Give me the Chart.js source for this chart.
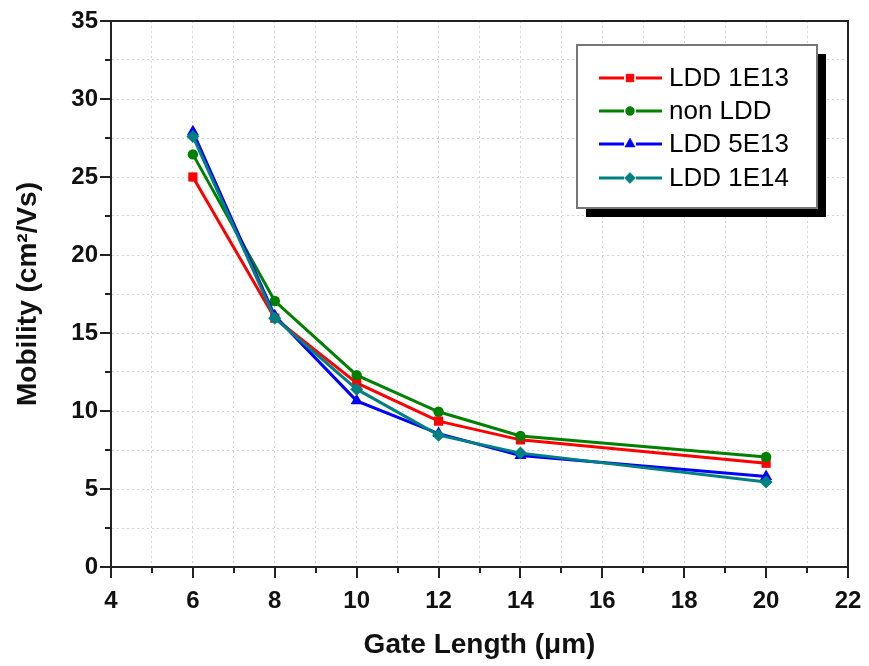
<!DOCTYPE html>
<html>
<head>
<meta charset="utf-8">
<script src="https://cdn.jsdelivr.net/npm/chart.js@4/dist/chart.umd.min.js"></script>
<style>
  html, body { margin: 0; padding: 0; background: #fff; }
  #wrap { width: 869px; height: 666px; }
</style>
</head>
<body>
<div id="wrap"><canvas id="c" width="869" height="666"></canvas></div>
<script>
// ---- data ----
const gateLengths = [6, 8, 10, 12, 14, 20];
const ldd1E13 = [25.0, 15.95, 11.8, 9.35, 8.15, 6.65];
const nonLDD = [26.45, 17.05, 12.3, 9.95, 8.4, 7.05];
const ldd5E13 = [27.9, 16.1, 10.65, 8.55, 7.15, 5.8];
const ldd1E14 = [27.6, 15.95, 11.4, 8.45, 7.3, 5.45];
const seriesNames = ['LDD 1E13', 'non LDD', 'LDD 5E13', 'LDD 1E14'];
const xTickLabels = [4, 6, 8, 10, 12, 14, 16, 18, 20, 22];
const yTickLabels = [0, 5, 10, 15, 20, 25, 30, 35];
const xTitle = 'Gate Length (\u03BCm)';
const yTitle = 'Mobility (cm\u00B2/Vs)';

const FONT = "'Liberation Sans', Arial, sans-serif";

function pts(vals) { return gateLengths.map((x, i) => ({ x: x, y: vals[i] })); }

const styles = [
  { color: '#ff0000', shape: 'rect', r: 6.5, order: 3 },
  { color: '#008000', shape: 'circle', r: 5.2, order: 2 },
  { color: '#0000ff', shape: 'triangle', r: 7, order: 1 },
  { color: '#008080', shape: 'rectRot', r: 6.5, order: 0 }
];
const seriesVals = [ldd1E13, nonLDD, ldd5E13, ldd1E14];

const datasets = seriesVals.map((v, i) => ({
  label: seriesNames[i],
  data: pts(v),
  borderColor: styles[i].color,
  backgroundColor: styles[i].color,
  borderWidth: 3,
  pointStyle: styles[i].shape,
  pointRadius: styles[i].r,
  pointHoverRadius: styles[i].r,
  pointBorderWidth: 0,
  pointBackgroundColor: styles[i].color,
  order: styles[i].order,
  tension: 0
}));

const framePlugin = {
  id: 'frame',
  afterDraw(chart) {
    const ctx = chart.ctx;
    const a = chart.chartArea;
    const xs = chart.scales.x, ys = chart.scales.y;
    ctx.save();
    // frame
    ctx.strokeStyle = '#222';
    ctx.lineWidth = 2;
    ctx.strokeRect(a.left, a.top, a.right - a.left, a.bottom - a.top);
    // ticks
    ctx.lineWidth = 2;
    ctx.beginPath();
    for (let v = xs.min; v <= xs.max + 1e-9; v += 1) {
      const px = Math.round(xs.getPixelForValue(v));
      const len = (v % 2 === 0) ? 11 : 6;
      ctx.moveTo(px, a.bottom);
      ctx.lineTo(px, a.bottom + len);
    }
    for (let v = ys.min; v <= ys.max + 1e-9; v += 2.5) {
      const py = Math.round(ys.getPixelForValue(v));
      const len = (v % 5 === 0) ? 11 : 6;
      ctx.moveTo(a.left, py);
      ctx.lineTo(a.left - len, py);
    }
    ctx.stroke();

    // legend
    const bx = 577, by = 45, bw = 240, bh = 163;
    ctx.fillStyle = '#000';
    ctx.fillRect(bx + 9, by + 9, bw, bh);
    ctx.fillStyle = '#fff';
    ctx.fillRect(bx, by, bw, bh);
    ctx.strokeStyle = '#777';
    ctx.lineWidth = 2;
    ctx.strokeRect(bx, by, bw, bh);
    const rows = [78, 111, 144, 178];
    chart.data.datasets.forEach((ds, i) => {
      const y = rows[i];
      ctx.strokeStyle = ds.borderColor;
      ctx.lineWidth = 3;
      ctx.beginPath();
      ctx.moveTo(599, y); ctx.lineTo(624, y);
      ctx.moveTo(636, y); ctx.lineTo(662, y);
      ctx.stroke();
      ctx.fillStyle = ds.borderColor;
      ctx.strokeStyle = ds.borderColor;
      ctx.lineWidth = 0.5;
      Chart.helpers.drawPoint(ctx, { pointStyle: ds.pointStyle, radius: ds.pointRadius * 0.85, borderWidth: 0.5, rotation: 0 }, 630, y);
      ctx.fillStyle = '#000';
      ctx.font = '26px ' + FONT;
      ctx.textBaseline = 'middle';
      ctx.textAlign = 'left';
      ctx.fillText(ds.label, 669, y + 1);
    });
    ctx.restore();
  }
};

new Chart(document.getElementById('c'), {
  type: 'line',
  data: { datasets: datasets },
  plugins: [framePlugin],
  options: {
    responsive: false,
    animation: false,
    layout: { padding: { top: 21, right: 21, left: 0, bottom: 0 } },
    plugins: { legend: { display: false }, tooltip: { enabled: false } },
    scales: {
      x: {
        type: 'linear',
        min: 4, max: 22,
        afterFit(s) { s.height = 99; s.paddingLeft = 0; s.paddingRight = 0; },
        grid: { color: '#d4d4d4', lineWidth: 1, drawTicks: false },
        border: { display: true, color: '#222', width: 2, dash: [2, 3] },
        ticks: {
          stepSize: 1,
          autoSkip: false,
          maxRotation: 0,
          padding: 20,
          color: '#111',
          font: { family: FONT, size: 24, weight: 'bold' },
          callback: (v) => xTickLabels.includes(v) ? String(v) : ''
        },
        title: {
          display: true, text: xTitle, color: '#111',
          font: { family: FONT, size: 28, weight: 'bold' },
          padding: { top: 0, bottom: 4 }
        }
      },
      y: {
        type: 'linear',
        min: 0, max: 35,
        afterFit(s) { s.width = 111; s.paddingTop = 0; s.paddingBottom = 0; },
        grid: { color: '#d4d4d4', lineWidth: 1, drawTicks: false },
        border: { display: true, color: '#222', width: 2, dash: [2, 3] },
        ticks: {
          stepSize: 2.5,
          autoSkip: false,
          padding: 13,
          color: '#111',
          font: { family: FONT, size: 24, weight: 'bold' },
          callback: (v) => yTickLabels.includes(v) ? String(v) : ''
        },
        title: {
          display: true, text: yTitle, color: '#111',
          font: { family: FONT, size: 28, weight: 'bold' },
          padding: { top: 11, bottom: 0 }
        }
      }
    }
  }
});
</script>
</body>
</html>
